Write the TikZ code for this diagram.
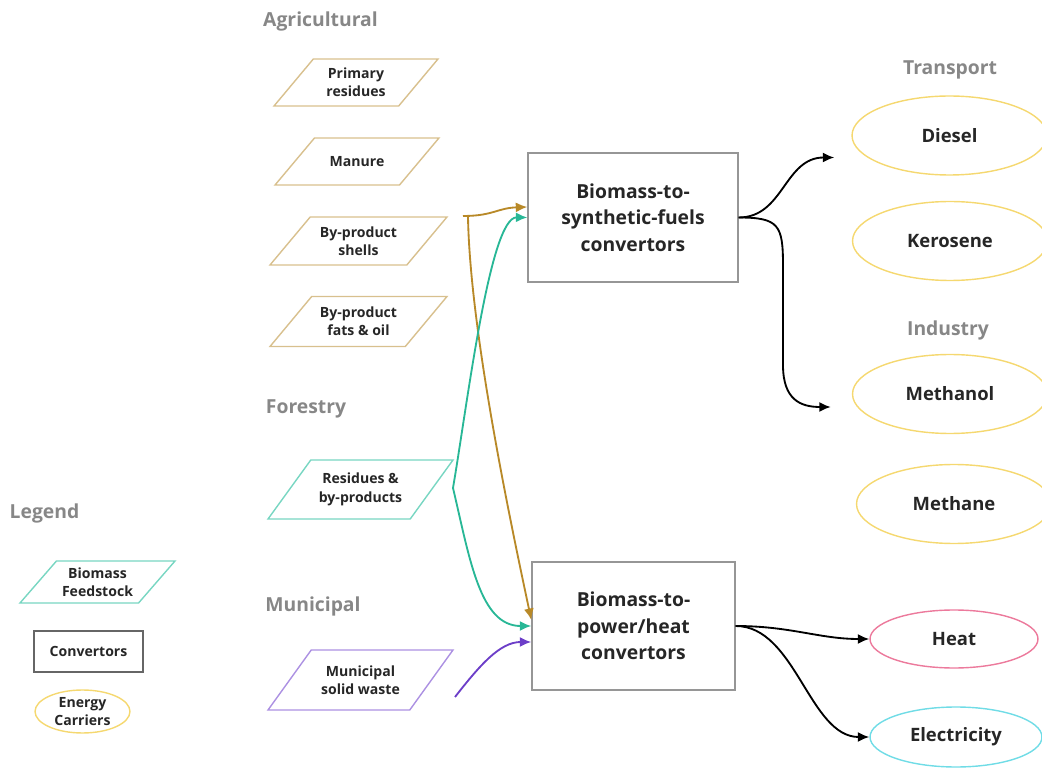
\documentclass[tikz,border=0pt]{standalone}
\usepackage{fontspec}
\setmainfont{Open Sans}
\usetikzlibrary{shapes.geometric, arrows.meta, positioning, calc}
\definecolor{tanline}{RGB}{216,192,142}
\definecolor{goldflow}{RGB}{184,137,40}
\definecolor{tealline}{RGB}{120,214,194}
\definecolor{tealflow}{RGB}{40,183,150}
\definecolor{purpleline}{RGB}{172,145,226}
\definecolor{purpleflow}{RGB}{108,62,200}
\definecolor{carrieryellow}{RGB}{245,216,112}
\definecolor{heatpink}{RGB}{236,122,156}
\definecolor{eleccyan}{RGB}{112,220,230}
\definecolor{boxgray}{RGB}{150,150,150}
\definecolor{headgray}{RGB}{135,135,135}
\definecolor{textdark}{RGB}{38,38,38}

\begin{document}
\begin{tikzpicture}[x=0.02cm, y=-0.02cm,
    feed/.style={trapezium, trapezium left angle=50, trapezium right angle=130, trapezium stretches body=true, draw=tanline, line width=0.8pt, align=center, text=textdark, font=\fontsize{8}{10.5}\selectfont\bfseries, inner xsep=1pt},
    conv/.style={draw=boxgray, line width=0.8pt, align=center, text=textdark, font=\fontsize{11}{15}\selectfont\bfseries},
    carrier/.style={ellipse, draw=carrieryellow, line width=0.8pt, minimum width=3.9cm, minimum height=1.58cm, text=textdark, font=\fontsize{10.5}{13}\selectfont\bfseries},
    heading/.style={text=headgray, font=\fontsize{11}{13}\selectfont\bfseries},
    flow/.style={-{Latex[length=2.3mm, width=2mm]}, line width=1.05pt}
]
\useasboundingbox (0,0) rectangle (1042,770);

% Headings
\node[heading] (hagri) at (320.5,21) {Agricultural};
\node[heading] (hforest) at (306,409) {Forestry};
\node[heading] (hmuni) at (313,606) {Municipal};
\node[heading] (htrans) at (950,70) {Transport};
\node[heading] (hind) at (948,330) {Industry};
\node[heading] (hlegend) at (44.5,513) {Legend};

% Feedstocks
\node[feed, inner ysep=5pt, minimum width=3.28cm, minimum height=0.94cm] (primary) at (356,82.5) {Primary\\residues};
\node[feed, inner ysep=10.5pt, minimum width=3.28cm, minimum height=0.94cm] (manure) at (357,161.5) {Manure};
\node[feed, inner ysep=5.3pt, minimum width=3.54cm, minimum height=0.96cm] (shells) at (358.5,241) {By-product\\shells};
\node[feed, inner ysep=5.8pt, minimum width=3.54cm, minimum height=1.0cm] (fats) at (358.5,321.5) {By-product\\fats \& oil};
\node[feed, draw=tealline, inner ysep=7.5pt, minimum width=3.7cm, minimum height=1.18cm, trapezium left angle=54, trapezium right angle=126] (forest) at (360.5,489.5) {Residues \&\\by-products};
\node[feed, draw=purpleline, inner ysep=8.6pt, minimum width=3.7cm, minimum height=1.2cm, trapezium left angle=54, trapezium right angle=126] (waste) at (360.5,680) {Municipal\\solid waste};

% Convertors
\node[conv, minimum width=4.2cm, minimum height=2.58cm] (syn) at (633,217.5) {Biomass-to-\\synthetic-fuels\\convertors};
\node[conv, minimum width=4.06cm, minimum height=2.56cm] (pow) at (633.5,626) {Biomass-to-\\power/heat\\convertors};

% Energy carriers
\node[carrier] (diesel) at (949.5,135.5) {Diesel};
\node[carrier] (kerosene) at (950,241) {Kerosene};
\node[carrier] (methanol) at (950,394) {Methanol};
\node[carrier] (methane) at (954,504) {Methane};
\node[carrier, draw=heatpink, minimum width=3.36cm, minimum height=1.16cm] (heat) at (954,639) {Heat};
\node[carrier, draw=eleccyan, minimum width=3.44cm, minimum height=1.2cm] (elec) at (956,737) {Electricity};

% Legend
\node[feed, draw=tealline, inner ysep=3.6pt, minimum width=3.1cm, minimum height=0.84cm, trapezium left angle=49, trapezium right angle=131] (lfeed) at (97.5,582) {Biomass\\Feedstock};
\node[conv, draw=black!60, minimum width=2.18cm, minimum height=0.82cm, font=\fontsize{8}{10.5}\selectfont\bfseries] (lconv) at (88.5,651.5) {Convertors};
\node[carrier, minimum width=1.9cm, minimum height=0.86cm, inner sep=0pt, align=center, font=\fontsize{8}{10.5}\selectfont\bfseries] (lcarrier) at (82.5,711.5) {Energy\\Carriers};

% Free ends
\coordinate (agsrc) at (463,216);
\coordinate (forsrc) at (453,488);
\coordinate (wastesrc) at (455,697);

% Flows into convertors
\draw[flow, goldflow] (agsrc) .. controls +(30,0) and +(-30,1) .. ($(syn.west)+(0,-10.5)$);
\draw[flow, goldflow] ($(agsrc)+(5,1)$) .. controls (470,330) and (510,520) .. ($(pow.west)+(0,-6)$);
\draw[flow, tealflow] (forsrc) .. controls (468,400) and (490,217) .. (syn.west);
\draw[flow, tealflow] (forsrc) .. controls (470,560) and (480,626) .. (pow.west);
\draw[flow, purpleflow] (wastesrc) .. controls (480,665) and (500,642) .. ($(pow.west)+(0,16)$);

% Flows out of convertors
\draw[flow] (syn.east) .. controls +(45,0) and +(-50,0) .. ($(diesel.west)+(-17,22)$);
\draw[flow] (syn.east) .. controls +(40,0) and +(0,-40) .. (783,265) -- (783,365) .. controls +(0,35) and +(-30,0) .. ($(methanol.west)+(-21,13)$);
\draw[flow] (pow.east) .. controls +(55,0) and +(-50,0) .. (heat.west);
\draw[flow] (pow.east) .. controls +(60,0) and +(-60,0) .. (elec.west);

\end{tikzpicture}
\end{document}
